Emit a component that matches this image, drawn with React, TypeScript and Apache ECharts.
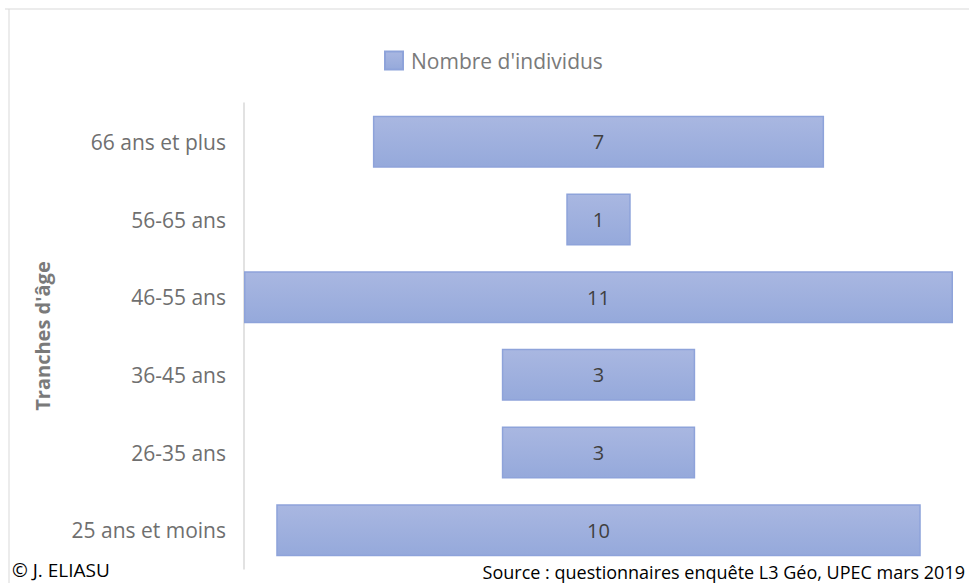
import React, { useEffect, useRef } from "react";
import * as echarts from "echarts";

const categories = ["25 ans et moins", "26-35 ans", "36-45 ans", "46-55 ans", "56-65 ans", "66 ans et plus"];
const values = [10, 3, 3, 11, 1, 7];
const maxValue = 11;
const offsets = values.map((v) => (maxValue - v) / 2);

const FONT = "'Open Sans', Lato, sans-serif";

export default function App() {
  const ref = useRef<HTMLDivElement>(null);
  useEffect(() => {
    if (!ref.current) return;
    const chart = echarts.init(ref.current, null, { renderer: "svg" });
    chart.setOption({
      animation: false,
      backgroundColor: "#ffffff",
      legend: {
        top: 45,
        left: 379,
        itemWidth: 18,
        itemHeight: 18,
        itemGap: 10,
        data: [{ name: "Nombre d'individus", icon: "rect" }],
        textStyle: { fontFamily: FONT, fontSize: 21, color: "#7a7a7a", padding: [0, 0, 0, 3] },
      },
      grid: { left: 244, right: 16, top: 103, bottom: 14 },
      xAxis: {
        type: "value",
        min: 0,
        max: maxValue,
        show: false,
      },
      yAxis: {
        type: "category",
        data: categories,
        name: "Tranches d'âge",
        nameLocation: "middle",
        nameGap: 192,
        nameRotate: 90,
        nameTextStyle: { fontFamily: FONT, fontSize: 20, fontWeight: "bold", color: "#7a7a7a" },
        axisLine: { show: true, lineStyle: { color: "#d9d9d9", width: 1.5 } },
        axisTick: { show: false },
        axisLabel: { fontFamily: FONT, fontSize: 21, color: "#6f6f6f", margin: 18 },
        splitLine: { show: false },
      },
      series: [
        {
          name: "offset",
          type: "bar",
          stack: "total",
          silent: true,
          itemStyle: { color: "transparent" },
          barCategoryGap: "33%",
          data: offsets,
        },
        {
          name: "Nombre d'individus",
          type: "bar",
          stack: "total",
          barCategoryGap: "33%",
          itemStyle: {
            color: {
              type: "linear",
              x: 0,
              y: 0,
              x2: 0,
              y2: 1,
              colorStops: [
                { offset: 0, color: "#a9b7e1" },
                { offset: 1, color: "#95a9db" },
              ],
              global: false,
            },
            borderColor: "#8ea3da",
            borderWidth: 1.5,
          },
          label: {
            show: true,
            position: "inside",
            fontFamily: FONT,
            fontSize: 20,
            color: "#404040",
          },
          data: values,
        },
      ],
      graphic: [
        { type: "line", shape: { x1: 5, y1: 9, x2: 969, y2: 9 }, style: { stroke: "#d9d9d9", lineWidth: 1 } },
        { type: "line", shape: { x1: 9, y1: 9, x2: 9, y2: 583 }, style: { stroke: "#d9d9d9", lineWidth: 1 } },
        {
          type: "text",
          left: 12,
          top: 560,
          style: { text: "© J. ELIASU", fontFamily: FONT, fontSize: 19, fill: "#000000" },
        },
        {
          type: "text",
          right: 4,
          top: 563,
          style: { text: "Source : questionnaires enquête L3 Géo, UPEC mars 2019", fontFamily: FONT, fontSize: 18, fill: "#000000" },
        },
      ],
    });
    return () => chart.dispose();
  }, []);
  return <div ref={ref} style={{ width: 969, height: 583, position: "absolute", left: 0, top: 0 }} />;
}
